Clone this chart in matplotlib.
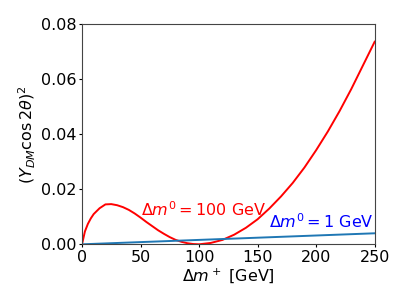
import matplotlib
matplotlib.use('Agg')
import matplotlib.pyplot as plt

# red curve, dm0 = 100 GeV
dm_plus = [0, 2.5, 5, 7.5, 10, 15, 20, 25, 30, 35, 40, 45, 50, 55, 60,
           65, 70, 75, 80, 85, 90, 95, 100, 110, 120, 130, 140, 150,
           160, 170, 180, 190, 200, 210, 220, 230, 240, 250]
y_100 = [0.0, 0.0047, 0.0074, 0.0094, 0.0110, 0.0131, 0.0145, 0.0146,
         0.0142, 0.0135, 0.0125, 0.0112, 0.0097, 0.0081, 0.0066, 0.0051,
         0.0038, 0.0026, 0.0016, 0.0009, 0.0004, 0.0001, 0.0000, 0.0005,
         0.0016, 0.0035, 0.0060, 0.0091, 0.0130, 0.0174, 0.0223, 0.0279,
         0.0342, 0.0410, 0.0484, 0.0564, 0.0650, 0.0736]

# blue line, dm0 = 1 GeV
dm_plus_1 = [0, 125, 250]
y_1 = [0.0, 0.0020, 0.0040]

fs = 11.5
fig = plt.figure(figsize=(4.07, 3.05), dpi=100)
ax = fig.add_axes([0.2015, 0.199, 0.7191, 0.722])

ax.plot(dm_plus, y_100, color='red', lw=1.4)
ax.plot(dm_plus_1, y_1, color='#1f77b4', lw=1.4)

ax.text(50, 0.0102, r'$\Delta m^0 = 100$ GeV', color='red', fontsize=fs)
ax.text(160, 0.0060, r'$\Delta m^0 = 1$ GeV', color='blue', fontsize=fs)

ax.set_xlim(0, 250)
ax.set_ylim(0, 0.08)
ax.set_xticks([0, 50, 100, 150, 200, 250])
ax.set_yticks([0, 0.02, 0.04, 0.06, 0.08])
ax.tick_params(labelsize=fs, length=2.5, pad=1.5)
for s in ax.spines.values():
    s.set_color('#444444')
ax.set_xlabel(r'$\Delta m^+$ [GeV]', fontsize=fs, labelpad=1)
ax.set_ylabel(r'$(Y_{DM}\cos 2\theta)^2$', fontsize=fs, labelpad=2)

fig.savefig('out.png', dpi=100)
